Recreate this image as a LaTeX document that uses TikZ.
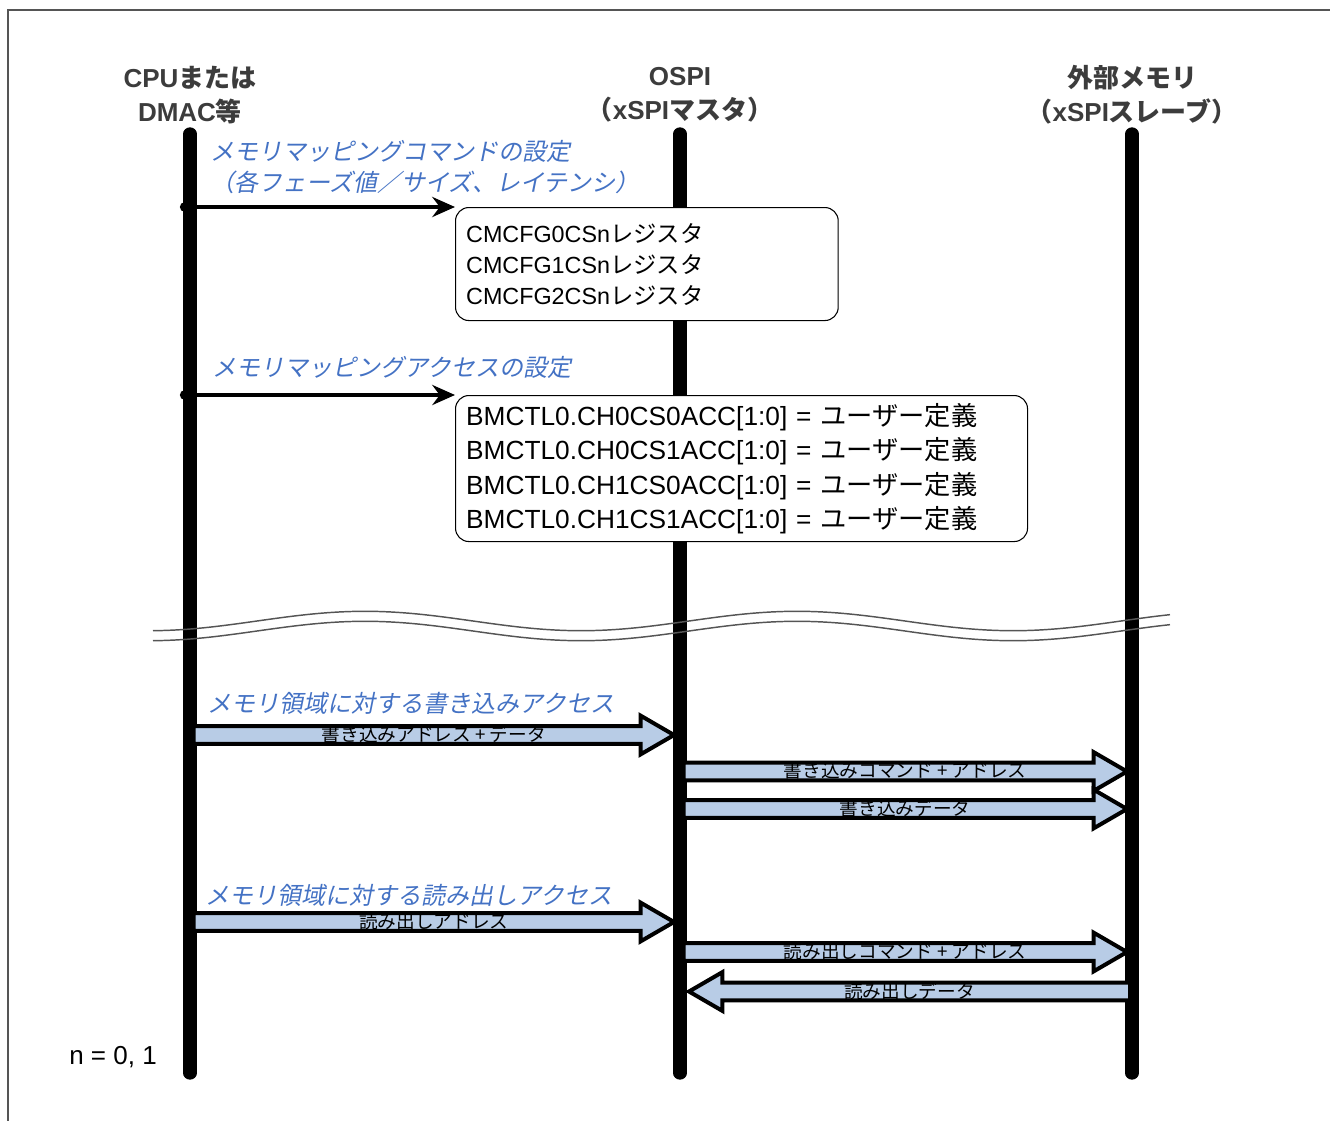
\documentclass[tikz,border=0pt]{standalone}
\usepackage{fontspec}
\setmainfont{Liberation Sans}
\newfontfamily\jp{Noto Sans CJK JP}
\newfontfamily\jpit{Noto Sans CJK JP}[FakeSlant=0.2]
\usetikzlibrary{arrows.meta, positioning, calc}
\definecolor{labelblue}{RGB}{68,114,196}
\definecolor{arrowfill}{RGB}{184,204,230}
\definecolor{headgray}{RGB}{60,60,60}
\definecolor{framegray}{RGB}{85,85,85}

\begin{document}
\begin{tikzpicture}[
    x=0.75pt, y=-0.75pt,
    head/.style={align=center, inner sep=0pt, text=headgray, font=\bfseries\fontsize{19.5}{25.5}\selectfont},
    lifeline/.style={line width=10pt, line cap=round},
    desc/.style={anchor=west, align=left, inner sep=0pt, text=labelblue, font=\jpit\fontsize{18}{23.25}\selectfont},
    regbox/.style={rectangle, draw, line width=0.8pt, fill=white, rounded corners=10pt, anchor=north west, align=left, inner xsep=8pt},
    setarrow/.style={{Circle[length=7pt]}-{Stealth[length=17pt, width=15pt]}, line width=2.8pt},
    blockarrow/.style={draw, line width=3pt, fill=arrowfill, line join=miter,
        to path={let \p1=(\tikztostart), \p2=(\tikztotarget), \p3=($(\tikztotarget)!25pt!(\tikztostart)$) in
            (\x1,\y1+6.6pt) -- (\x3,\y1+6.6pt) -- (\x3,\y1+14.5pt) -- (\x2,\y2)
            -- (\x3,\y1-14.5pt) -- (\x3,\y1-6.6pt) -- (\x1,\y1-6.6pt) -- cycle}},
    blocklbl/.style={inner sep=0pt, yshift=0.5pt, font=\jp\fontsize{14}{14}\selectfont},
    breakline/.style={draw=framegray, line width=1.1pt}
]

% Page frame
\useasboundingbox (0,0) rectangle (1330,1120);
\clip (0,0) rectangle (1330,1120);
\draw[framegray, line width=1.5pt] (8,1140) -- (8,10) -- (1345,10);

% Headers
\node[head] (cpu) at (190,95) {CPU{\jp または}\\DMAC{\jp 等}};
\node[head] (ospi) at (680,95) {OSPI\\{\jp （}xSPI{\jp マスタ）}};
\node[head] (mem) at (1132,95) {{\jp 外部メモリ}\\{\jp （}xSPI{\jp スレーブ）}};

% Lifelines
\foreach \n/\lx in {cpu/190, ospi/680, mem/1132} {
    \coordinate (\n-top) at (\lx,134);
    \coordinate (\n-bot) at (\lx,1073);
    \draw[lifeline] (\n-top) -- (\n-bot);
}

% Break mark
\foreach \dy in {0,10}
    \draw[breakline] plot[domain=153:1170, samples=100, smooth] (\x, {621+\dy-9.7*cos(((\x-365)/216)*180)});

% Command setting
\coordinate (s1) at (180,207);
\node[regbox, text width=271pt, minimum height=84.75pt, font=\fontsize{17.5}{23.25}\selectfont] (cmcfg) at (455,207)
    {CMCFG0CSn{\jp レジスタ}\\CMCFG1CSn{\jp レジスタ}\\CMCFG2CSn{\jp レジスタ}};
\draw[setarrow] (s1) -- (cmcfg.north west);
\node[desc] (d1) at (210,167.5) {メモリマッピングコマンドの設定\\（各フェーズ値／サイズ、レイテンシ）};

% Access setting
\coordinate (s2) at (180,395);
\node[regbox, text width=413pt, minimum height=109.5pt, font=\fontsize{19.7}{25.7}\selectfont] (bmctl) at (455,395)
    {BMCTL0.CH0CS0ACC[1:0] = {\jp ユーザー定義}\\BMCTL0.CH0CS1ACC[1:0] = {\jp ユーザー定義}\\
     BMCTL0.CH1CS0ACC[1:0] = {\jp ユーザー定義}\\BMCTL0.CH1CS1ACC[1:0] = {\jp ユーザー定義}};
\draw[setarrow] (s2) -- (bmctl.north west);
\node[desc] (d2) at (212,367) {メモリマッピングアクセスの設定};

% Write access
\node[desc] (d3) at (207,703) {メモリ領域に対する書き込みアクセス};
\coordinate (w1a) at (193.5,735);   \coordinate (w1b) at (674,735);
\coordinate (w2a) at (683.5,771.5); \coordinate (w2b) at (1127,771.5);
\coordinate (w3a) at (683.5,809);   \coordinate (w3b) at (1127,809);
\draw[blockarrow] (w1a) to (w1b);
\path (w1a) -- node[blocklbl] {書き込みアドレス + データ} (w1b);
\draw[blockarrow] (w2a) to (w2b);
\path (w2a) -- node[blocklbl] {書き込みコマンド + アドレス} (w2b);
\draw[blockarrow] (w3a) to (w3b);
\path (w3a) -- node[blocklbl] {書き込みデータ} (w3b);

% Read access
\node[desc] (d4) at (205,895) {メモリ領域に対する読み出しアクセス};
\coordinate (r1a) at (193.5,922);   \coordinate (r1b) at (674,922);
\coordinate (r2a) at (683.5,952);   \coordinate (r2b) at (1127,952);
\coordinate (r3a) at (1130,991.5);  \coordinate (r3b) at (689,991.5);
\draw[blockarrow] (r1a) to (r1b);
\path (r1a) -- node[blocklbl] {読み出しアドレス} (r1b);
\draw[blockarrow] (r2a) to (r2b);
\path (r2a) -- node[blocklbl] {読み出しコマンド + アドレス} (r2b);
\draw[blockarrow] (r3a) to (r3b);
\path (r3a) -- node[blocklbl] {読み出しデータ} (r3b);

% Note
\node[font=\fontsize{19.5}{22}\selectfont, inner sep=0pt] (note) at (113,1057) {n = 0, 1};

\end{tikzpicture}
\end{document}
